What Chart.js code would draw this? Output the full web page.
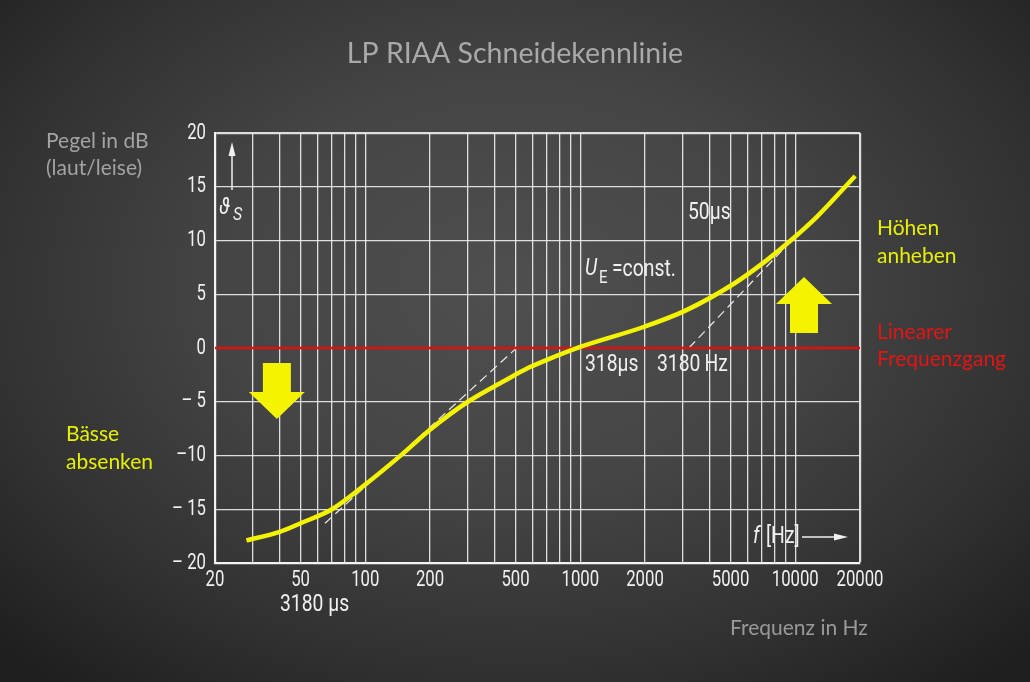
<!DOCTYPE html>
<html lang="de">
<head>
<meta charset="utf-8">
<title>LP RIAA Schneidekennlinie</title>
<script src="https://cdn.jsdelivr.net/npm/chart.js@4.4.1/dist/chart.umd.min.js"></script>
<style>
  html, body { margin: 0; padding: 0; }
  body {
    width: 1030px; height: 682px; overflow: hidden;
    background: radial-gradient(ellipse 70% 75% at 50% 42%, #4f4f4f 0%, #454545 40%, #313131 75%, #1f1f1f 100%);
  }
  canvas { display: block; }
</style>
</head>
<body>
<canvas id="riaaChart" width="1030" height="682"></canvas>
<script>
// Schneidekennlinie
const freqHz  = [28, 40, 50, 70, 100, 150, 200, 300, 440, 580, 700, 1000, 2000, 3100, 5200, 7400, 9400, 12600, 19000];
const pegelDb = [-17.9, -17.1, -16.3, -15.0, -12.7, -9.8, -7.6, -5.0, -3.1, -1.8, -1.1, 0.1, 2.0, 3.5, 6.0, 8.2, 9.9, 12.2, 16.0];

// gestrichelte Asymptoten
const asymBassHz = [65, 505];
const asymBassDb = [-16.3, 0];
const asymHoehenHz = [3200, 9300];
const asymHoehenDb = [0, 9.7];

// linearer Frequenzgang (rote Linie)
const linearHz = [20, 20000];
const linearDb = [0, 0];

// Achsen
const xGrid = [20, 30, 40, 50, 60, 70, 80, 90, 100, 200, 300, 400, 500, 600, 700, 800, 900, 1000,
               2000, 3000, 4000, 5000, 6000, 7000, 8000, 9000, 10000, 20000];
const xLabels = [20, 50, 100, 200, 500, 1000, 2000, 5000, 10000, 20000];
const yTicks = [-20, -15, -10, -5, 0, 5, 10, 15, 20];

const schmal = 'Roboto, sans-serif';   // wird horizontal gestaucht
const textFont = "Lato, 'Open Sans', sans-serif";
const gridColor = 'rgba(240,240,240,0.9)';
const weiss = '#f0f0f0';

function punkte(xs, ys) {
    return xs.map((x, i) => ({ x: x, y: ys[i] }));
}

function yLabel(v) {
    if (v >= 0) return String(v);
    if (v === -10) return '\u2013' + Math.abs(v);
    return '\u2013 ' + Math.abs(v);
}

// schmale Schrift wie im Original (DIN-artig): Roboto gestaucht
function schmalText(ctx, s, x, y, size, align, italic, k) {
    ctx.save();
    ctx.translate(x, y);
    ctx.scale(k || 0.84, 1);
    ctx.font = (italic ? 'italic ' : '') + size + 'px ' + schmal;
    ctx.fillStyle = weiss;
    ctx.textAlign = align || 'left';
    ctx.textBaseline = 'middle';
    ctx.fillText(s, 0, 0);
    ctx.restore();
}

function text(ctx, s, x, y, font, color, align) {
    ctx.font = font;
    ctx.fillStyle = color;
    ctx.textAlign = align || 'left';
    ctx.textBaseline = 'middle';
    ctx.fillText(s, x, y);
}

function pfeil(ctx, cx, tipY, dir, color) {
    // dir = 1: nach unten, -1: nach oben
    const shaft = 14, head = 28, headH = 27, total = 56;
    ctx.save();
    ctx.fillStyle = color;
    ctx.beginPath();
    ctx.moveTo(cx, tipY);
    ctx.lineTo(cx + head, tipY - dir * headH);
    ctx.lineTo(cx + shaft, tipY - dir * headH);
    ctx.lineTo(cx + shaft, tipY - dir * total);
    ctx.lineTo(cx - shaft, tipY - dir * total);
    ctx.lineTo(cx - shaft, tipY - dir * headH);
    ctx.lineTo(cx - head, tipY - dir * headH);
    ctx.closePath();
    ctx.fill();
    ctx.restore();
}

const beschriftung = {
    id: 'beschriftung',
    afterDraw(chart) {
        const ctx = chart.ctx;
        const xs = chart.scales.x, ys = chart.scales.y;
        const area = chart.chartArea;
        ctx.save();

        // Achsenbeschriftung
        xs.ticks.forEach(t => {
            if (xLabels.includes(t.value)) {
                schmalText(ctx, String(t.value), xs.getPixelForValue(t.value), area.bottom + 17, 22, 'center', false, 0.76);
            }
        });
        ys.ticks.forEach(t => {
            schmalText(ctx, yLabel(t.value), area.left - 9, ys.getPixelForValue(t.value), 22, 'right', false, 0.76);
        });

        // gelbe Pfeile
        pfeil(ctx, xs.getPixelForValue(38.8), ys.getPixelForValue(-6.6), 1, '#f4f400');
        pfeil(ctx, xs.getPixelForValue(10980), ys.getPixelForValue(6.6), -1, '#f4f400');

        // Beschriftung im Diagramm (weiß)
        schmalText(ctx, '50\u00b5s', 688, 213, 23);
        schmalText(ctx, 'U', 585, 269, 23, 'left', true);
        schmalText(ctx, 'E', 599, 278, 18);
        schmalText(ctx, '=const.', 612, 270, 23);
        schmalText(ctx, '318\u00b5s', 585, 365, 23);
        schmalText(ctx, '3180\u2009Hz', 657, 365, 23);
        schmalText(ctx, '3180 \u00b5s', 280, 605, 23);
        schmalText(ctx, 'f', 753, 537, 23, 'left', true);
        schmalText(ctx, '[Hz]', 766, 537, 23);
        schmalText(ctx, '\u03d1', 219, 208, 23, 'left', true);
        schmalText(ctx, 'S', 233, 215, 19, 'left', true);

        // kleine Pfeile
        ctx.strokeStyle = weiss;
        ctx.fillStyle = weiss;
        ctx.lineWidth = 1.5;
        ctx.beginPath();
        ctx.moveTo(802, 537); ctx.lineTo(838, 537);
        ctx.moveTo(232, 190); ctx.lineTo(232, 152);
        ctx.stroke();
        ctx.beginPath();
        ctx.moveTo(848, 537); ctx.lineTo(834, 533.5); ctx.lineTo(834, 540.5); ctx.closePath();
        ctx.moveTo(232, 142); ctx.lineTo(228.5, 156); ctx.lineTo(235.5, 156); ctx.closePath();
        ctx.fill();

        // Titel und Texte außerhalb
        text(ctx, 'LP RIAA Schneidekennlinie', 515, 54, '28.5px ' + textFont, '#a9a9a9', 'center');
        text(ctx, 'Pegel in dB', 46, 141, '21px ' + textFont, '#a3a3a3');
        text(ctx, '(laut/leise)', 46, 168, '21px ' + textFont, '#a3a3a3');
        text(ctx, 'B\u00e4sse', 66, 434, '21px ' + textFont, '#e6f000');
        text(ctx, 'absenken', 66, 462, '21px ' + textFont, '#e6f000');
        text(ctx, 'H\u00f6hen', 877, 228, '21px ' + textFont, '#e6f000');
        text(ctx, 'anheben', 877, 256, '21px ' + textFont, '#e6f000');
        text(ctx, 'Linearer', 877, 332, '21px ' + textFont, '#e41414');
        text(ctx, 'Frequenzgang', 877, 359, '21px ' + textFont, '#e41414');
        text(ctx, 'Frequenz in Hz', 730, 628, '21px ' + textFont, '#9a9a9a');

        ctx.restore();
    }
};

new Chart(document.getElementById('riaaChart').getContext('2d'), {
    type: 'line',
    data: {
        datasets: [{
                label: 'Schneidekennlinie',
                data: punkte(freqHz, pegelDb),
                borderColor: '#f4f400',
                borderWidth: 4.5,
                pointRadius: 0,
                cubicInterpolationMode: 'monotone',
                order: 0
            }, {
                label: 'Linearer Frequenzgang',
                data: punkte(linearHz, linearDb),
                borderColor: '#e01010',
                borderWidth: 2.5,
                pointRadius: 0,
                order: 1
            }, {
                label: 'Asymptote Bass',
                data: punkte(asymBassHz, asymBassDb),
                borderColor: '#e8e8e8',
                borderWidth: 1.2,
                borderDash: [9, 5],
                pointRadius: 0,
                order: 2
            }, {
                label: 'Asymptote Höhen',
                data: punkte(asymHoehenHz, asymHoehenDb),
                borderColor: '#e8e8e8',
                borderWidth: 1.2,
                borderDash: [9, 5],
                pointRadius: 0,
                order: 2
            }]
    },
    options: {
        responsive: false,
        animation: false,
        layout: { padding: { left: 155, right: 170, top: 133, bottom: 79 } },
        plugins: {
            legend: { display: false },
            tooltip: { enabled: false }
        },
        scales: {
            x: {
                type: 'logarithmic',
                min: 20,
                max: 20000,
                afterBuildTicks: s => { s.ticks = xGrid.map(v => ({ value: v })); },
                afterFit: s => { s.height = 40; },
                grid: {
                    color: gridColor,
                    lineWidth: c => (c.tick && (c.tick.value === 20000) ? 2.2 : 1.3),
                    drawTicks: false
                },
                border: { display: true, color: '#f4f4f4', width: 2.2 },
                ticks: { display: false, autoSkip: false }
            },
            y: {
                min: -20,
                max: 20,
                afterBuildTicks: s => { s.ticks = yTicks.map(v => ({ value: v })); },
                afterFit: s => { s.width = 60; },
                grid: {
                    color: gridColor,
                    lineWidth: c => (c.tick && (c.tick.value === 20) ? 2.2 : 1.3),
                    drawTicks: false
                },
                border: { display: true, color: '#f4f4f4', width: 2.2 },
                ticks: { display: false }
            }
        }
    },
    plugins: [beschriftung]
});
</script>
</body>
</html>
